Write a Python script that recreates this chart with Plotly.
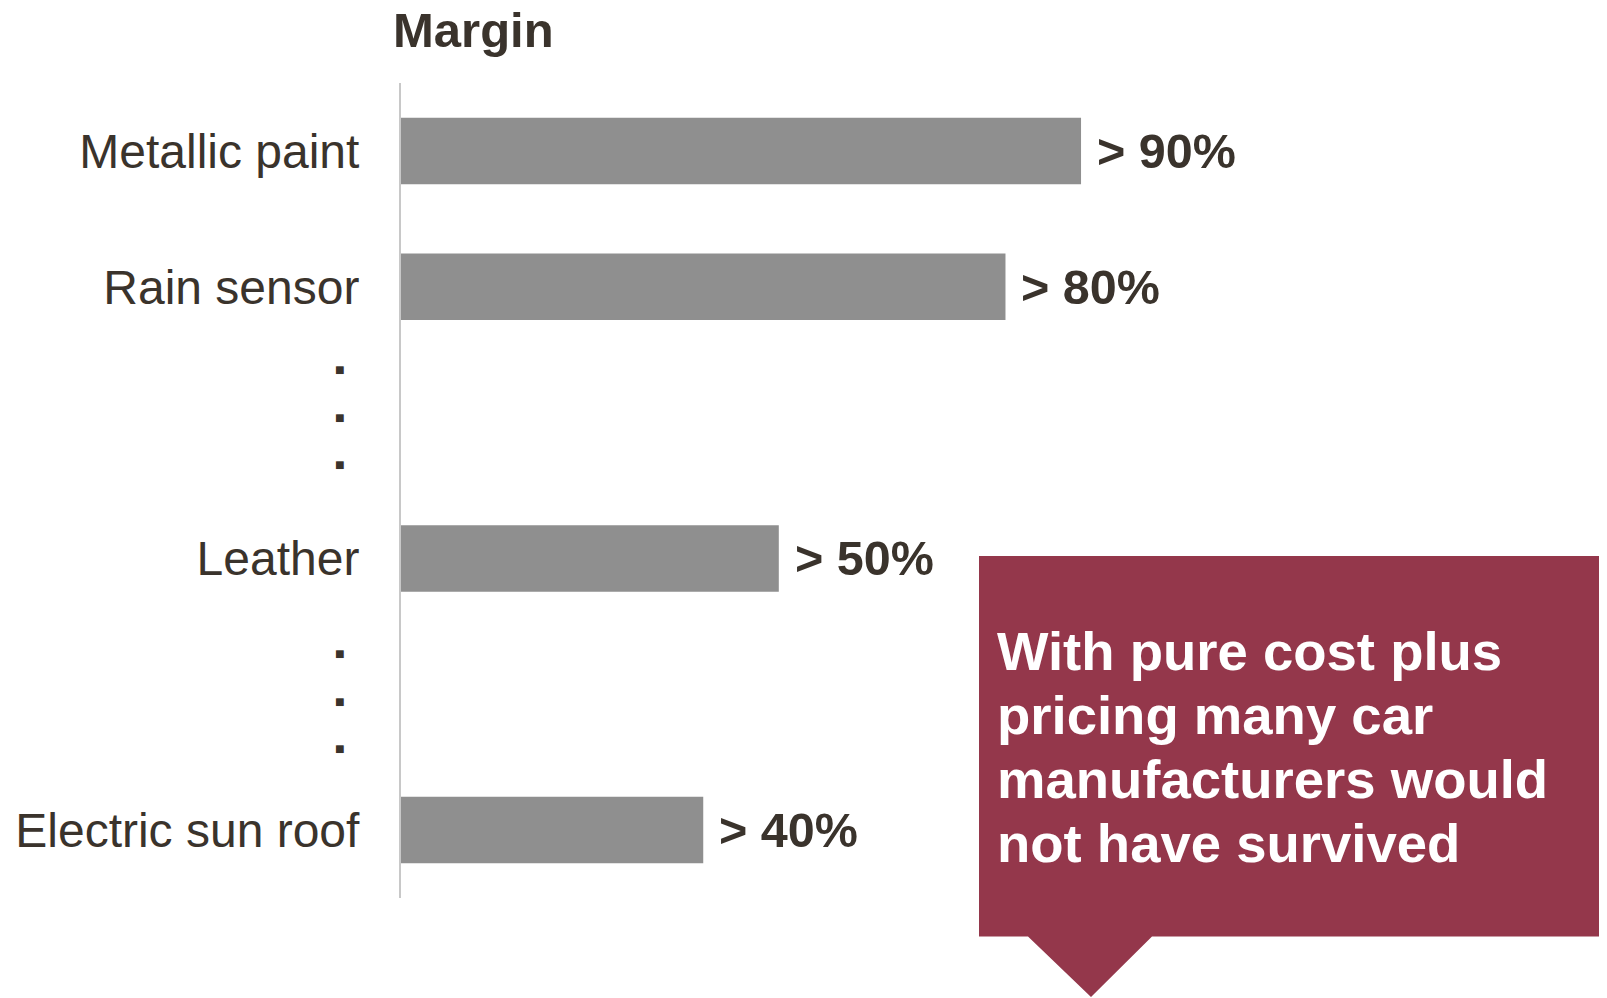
import plotly.graph_objects as go

# ---------------- data ----------------
categories = ["Metallic paint", "Rain sensor", "Leather", "Electric sun roof"]
margins = [90, 80, 50, 40]
value_labels = ["> 90%", "> 80%", "> 50%", "> 40%"]
slot_order = ["Metallic paint", "Rain sensor", "gap_a", "Leather", "gap_b", "Electric sun roof"]
gap_slots = ["gap_a", "gap_b"]
title_text = "Margin"
callout_lines = ["With pure cost plus", "pricing many car",
                 "manufacturers would", "not have survived"]

# ---------------- layout geometry / styles ----------------
W, H = 1607, 998
L, R, T, B = 401, 0, 83, 100
PW = W - L - R
PH = H - T - B
PX_PER_UNIT = 7.556
FONT = "Liberation Sans, Arial, Helvetica, sans-serif"
TEXT_COLOR = "#3a332c"
BAR_COLOR = "#8f8f8f"
AXIS_COLOR = "#c8c8c8"
CALLOUT_COLOR = "#94374b"


def px_x(px):
    return (px - L) / PW


def px_y(py):
    return (H - B - py) / PH


fig = go.Figure()
fig.add_trace(go.Bar(
    x=margins, y=categories, orientation="h",
    marker=dict(color=BAR_COLOR, line=dict(width=0)),
    width=0.49, hoverinfo="skip",
))

ticktext = ["" if s in gap_slots else s for s in slot_order]

annotations = []
# value labels
for cat, val, lab in zip(categories, margins, value_labels):
    annotations.append(dict(
        x=val, y=cat, xref="x", yref="y", text=lab, showarrow=False,
        xanchor="left", yanchor="middle", xshift=14,
        font=dict(family=FONT, size=48.5, color=TEXT_COLOR, weight="bold"),
    ))

# title
annotations.append(dict(
    x=px_x(391), y=px_y(30), xref="paper", yref="paper", text=title_text,
    showarrow=False, xanchor="left", yanchor="middle",
    font=dict(family=FONT, size=49, color=TEXT_COLOR, weight="bold"),
))

# ellipsis dots in gap slots
dot = "<span style='font-size:16px'>■</span>"
dots_text = "<br>".join([dot] * 3)
for g, shift in zip(gap_slots, [6, -7]):
    annotations.append(dict(
        x=px_x(339.7), y=g, xref="paper", yref="y", text=dots_text,
        showarrow=False, xanchor="center", yanchor="middle", yshift=shift,
        font=dict(family=FONT, size=36.7, color=TEXT_COLOR),
    ))

# callout text
callout_text = "<br>".join(f"<span style='font-size:54.5px'>{l}</span>" for l in callout_lines)
annotations.append(dict(
    x=px_x(995), y=px_y(619), xref="paper", yref="paper", text=callout_text,
    showarrow=False, xanchor="left", yanchor="top", align="left",
    font=dict(family=FONT, size=49.2, color="white", weight="bold"),
))

# callout shape (box with downward pointer)
bx0, bx1, by0, by1 = px_x(979), px_x(1599), px_y(556), px_y(936.5)
tx0, tx1, txm, ty = px_x(1028), px_x(1152), px_x(1091), px_y(997)
path = (f"M {bx0},{by0} L {bx1},{by0} L {bx1},{by1} L {tx1},{by1} "
        f"L {txm},{ty} L {tx0},{by1} L {bx0},{by1} Z")
shapes = [dict(type="path", xref="paper", yref="paper", path=path,
               fillcolor=CALLOUT_COLOR, line=dict(width=0), layer="above")]

fig.update_layout(
    width=W, height=H,
    margin=dict(l=L, r=R, t=T, b=B, pad=0),
    paper_bgcolor="white", plot_bgcolor="white",
    showlegend=False,
    annotations=annotations,
    shapes=shapes,
    xaxis=dict(visible=False, range=[0, PW / PX_PER_UNIT], fixedrange=True),
    yaxis=dict(
        type="category", categoryorder="array", categoryarray=slot_order,
        range=[len(slot_order) - 0.5, -0.5],
        tickmode="array", tickvals=slot_order, ticktext=ticktext,
        showline=True, linecolor=AXIS_COLOR, linewidth=2,
        showgrid=False, zeroline=False, ticks="",
        ticklabelstandoff=30,
        tickfont=dict(family=FONT, size=48, color=TEXT_COLOR),
        fixedrange=True,
    ),
)

fig.write_html("out.html")
